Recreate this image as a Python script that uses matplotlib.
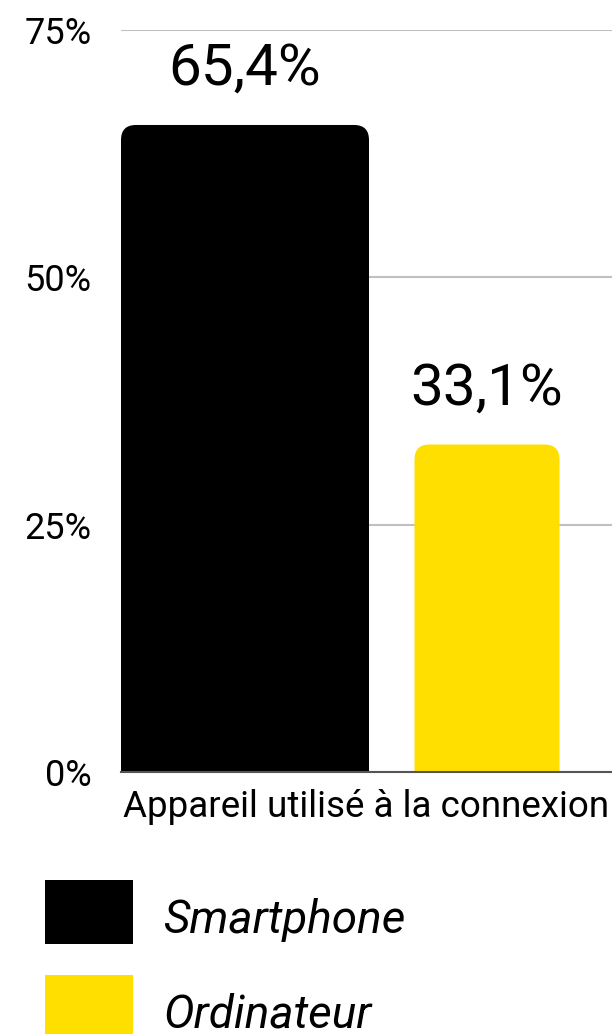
import matplotlib.pyplot as plt
from matplotlib.patches import FancyBboxPatch, Rectangle

plt.rcParams['font.family'] = ['Roboto', 'DejaVu Sans']

# Data
categories = ['Smartphone', 'Ordinateur']
values = [65.4, 33.1]
value_labels = ['65,4%', '33,1%']
colors = ['#000000', '#ffdf00']
group_label = 'Appareil utilisé à la connexion'
y_ticks = [0, 25, 50, 75]
y_tick_labels = ['0%', '25%', '50%', '75%']

# bar geometry (x axis in pixels of the plot area)
x_pos = [124, 366]
widths = [248, 145]

W, H = 612, 1034
fig = plt.figure(figsize=(W / 100, H / 100), dpi=100)
ax = fig.add_axes([121 / W, 262 / H, 491 / W, 742 / H])
ax.set_xlim(0, 491)
ax.set_ylim(0, 75)

px_per_unit = 742 / 75
radius = 15

for x, w, v, c, lab in zip(x_pos, widths, values, colors, value_labels):
    box = FancyBboxPatch((x - w / 2, -5), w, v + 5,
                         boxstyle='round,pad=0,rounding_size=%d' % radius,
                         mutation_aspect=1 / px_per_unit,
                         facecolor=c, edgecolor='none', zorder=3)
    ax.add_patch(box)
    ax.text(x, v + 40 / px_per_unit, lab, ha='center', va='baseline',
            fontsize=42, color='black')

ax.set_yticks(y_ticks)
ax.set_yticklabels(y_tick_labels, fontsize=26)
ax.tick_params(axis='y', length=0, pad=21)
ax.set_xticks([])
ax.grid(axis='y', color='#c0c0c0', linewidth=1.5, zorder=0)
ax.set_axisbelow(True)
for s in ['top', 'right', 'left']:
    ax.spines[s].set_visible(False)
ax.spines['bottom'].set_color('#555555')
ax.spines['bottom'].set_linewidth(1.5)
ax.spines['bottom'].set_zorder(4)
ax.set_xlabel(group_label, fontsize=26.5, labelpad=12)

# legend drawn by hand
leg_top = [880, 975]
leg_base = [933, 1027]
for c, name, top, base in zip(colors, categories, leg_top, leg_base):
    fig.add_artist(Rectangle((45 / W, 1 - (top + 64) / H), 88 / W, 64 / H,
                             transform=fig.transFigure, facecolor=c,
                             edgecolor='none'))
    fig.text(163 / W, 1 - base / H, name, fontsize=33, style='italic',
             ha='left', va='baseline')

fig.savefig('out.png', dpi=100)
